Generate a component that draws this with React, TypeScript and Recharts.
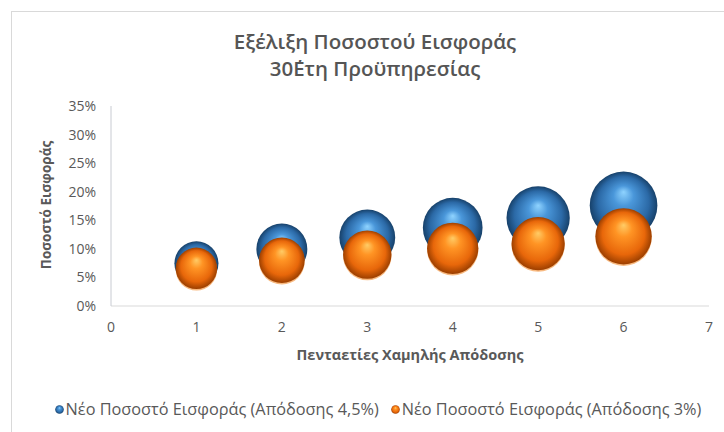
import React from 'react';
import { ScatterChart, Scatter, XAxis, YAxis, ZAxis } from 'recharts';

// Πενταετίες (άξονας Χ)
const periods = [1, 2, 3, 4, 5, 6];
// Νέο ποσοστό εισφοράς με απόδοση 4,5%
const rate45 = [0.0746, 0.0997, 0.12, 0.137, 0.154, 0.176];
// Νέο ποσοστό εισφοράς με απόδοση 3%
const rate3 = [0.066, 0.08, 0.09, 0.101, 0.109, 0.122];

const xTicks = [0, 1, 2, 3, 4, 5, 6, 7];
const yTicks = [0, 0.05, 0.1, 0.15, 0.2, 0.25, 0.3, 0.35];

const seriesNames = [
  'Νέο Ποσοστό Εισφοράς (Απόδοσης 4,5%)',
  'Νέο Ποσοστό Εισφοράς (Απόδοσης 3%)',
];

const blueData = periods.map((p, i) => ({ x: p, y: rate45[i], z: rate45[i] }));
const orangeData = periods.map((p, i) => ({ x: p, y: rate3[i], z: rate3[i] }));

const FONT = '"Open Sans", "Noto Sans", sans-serif';
const TEXT = '#595959';

const sphere = (grad: string, rim?: string) => (props: any) => {
  const { cx, cy, width } = props;
  const r = width / 2;
  return (
    <g>
      {rim && <circle cx={cx} cy={cy + 1.5} r={r} fill={rim} opacity={0.8} />}
      <circle cx={cx} cy={cy} r={r} fill={`url(#${grad})`} />
    </g>
  );
};

const LegendDot = ({ grad }: { grad: string }) => (
  <svg width={9} height={9} style={{ verticalAlign: 'middle', marginRight: 2, marginTop: -3 }}>
    <circle cx={4.5} cy={4.5} r={4.3} fill={`url(#${grad})`} />
  </svg>
);

export default function App() {
  return (
    <div style={{ position: 'absolute', left: 0, top: 0, width: 724, height: 432, background: '#fff', fontFamily: FONT, overflow: 'hidden' }}>
      <div style={{ position: 'absolute', left: 11, top: 11, width: 740, height: 440, borderLeft: '1px solid #d9d9d9', borderTop: '1px solid #d9d9d9' }} />
      <div style={{ position: 'absolute', left: 0, width: 750, top: 28, textAlign: 'center', fontSize: 20.5, fontWeight: 600, lineHeight: '27px', color: '#555' }}>
        Εξέλιξη Ποσοστού Εισφοράς
        <br />
        30΄Ετη Προϋπηρεσίας
      </div>
      <div style={{ position: 'absolute', left: 46, top: 205, transform: 'translate(-50%, -50%) rotate(-90deg)', whiteSpace: 'nowrap', fontSize: 13.5, fontWeight: 700, color: TEXT }}>
        Ποσοστό Εισφοράς
      </div>
      <div style={{ position: 'absolute', left: 410, top: 354, transform: 'translate(-50%, -50%)', whiteSpace: 'nowrap', fontSize: 14.5, fontWeight: 700, color: TEXT }}>
        Πενταετίες Χαμηλής Απόδοσης
      </div>
      <div style={{ position: 'absolute', left: 0, width: 756, top: 398, textAlign: 'center', whiteSpace: 'nowrap', fontSize: 16.3, color: TEXT }}>
        <LegendDot grad="gradBlue" />
        <span style={{ marginRight: 12 }}>{seriesNames[0]}</span>
        <LegendDot grad="gradOrange" />
        <span>{seriesNames[1]}</span>
      </div>
      <div style={{ position: 'absolute', left: 0, top: 0 }}>
        <ScatterChart width={724} height={432} margin={{ top: 106, right: 15, bottom: 96, left: 51 }}>
          <defs>
            <radialGradient id="gradBlue" cx="0.5" cy="0.5" r="0.5" fx="0.5" fy="0.3">
              <stop offset="0" stopColor="#8fd3ff" />
              <stop offset="0.3" stopColor="#4a97da" />
              <stop offset="0.75" stopColor="#2b69a6" />
              <stop offset="1" stopColor="#17416a" />
            </radialGradient>
            <radialGradient id="gradOrange" cx="0.5" cy="0.5" r="0.5" fx="0.5" fy="0.3">
              <stop offset="0" stopColor="#ffcc66" />
              <stop offset="0.3" stopColor="#ff9424" />
              <stop offset="0.75" stopColor="#e8670a" />
              <stop offset="1" stopColor="#9c3f00" />
            </radialGradient>
          </defs>
          <XAxis
            type="number"
            dataKey="x"
            domain={[0, 7]}
            ticks={xTicks}
            height={30}
            tickLine={false}
            tickMargin={10}
            axisLine={{ stroke: '#d9d9d9' }}
            tick={{ fill: TEXT, fontSize: 14, fontFamily: FONT }}
          />
          <YAxis
            type="number"
            dataKey="y"
            domain={[0, 0.35]}
            ticks={yTicks}
            width={60}
            tickLine={false}
            tickMargin={9}
            axisLine={{ stroke: '#c8cbd2' }}
            tickFormatter={(v: number) => `${Math.round(v * 100)}%`}
            tick={{ fill: TEXT, fontSize: 14, fontFamily: FONT }}
          />
          <ZAxis type="number" dataKey="z" domain={[0, 0.2]} range={[0, 4084]} />
          <Scatter name={seriesNames[0]} data={blueData} shape={sphere('gradBlue')} isAnimationActive={false} />
          <Scatter name={seriesNames[1]} data={orangeData} shape={sphere('gradOrange', '#f6a860')} isAnimationActive={false} />
        </ScatterChart>
      </div>
    </div>
  );
}
